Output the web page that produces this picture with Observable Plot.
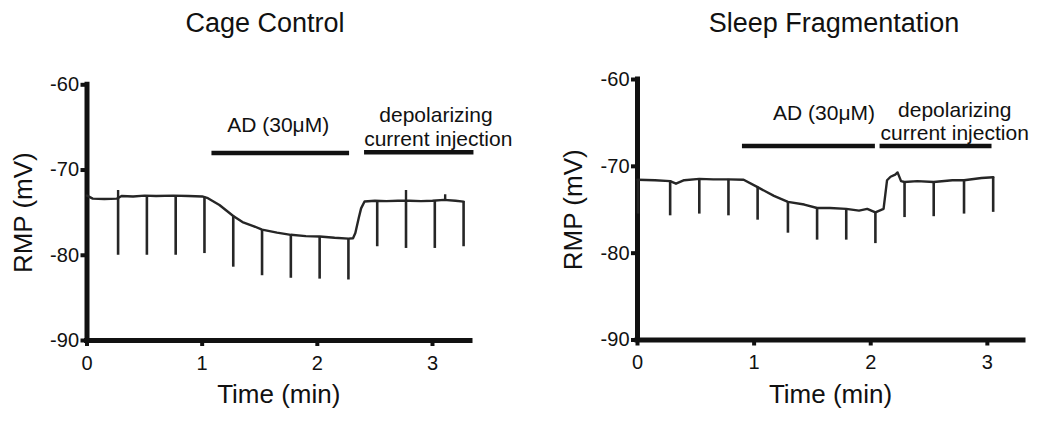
<!DOCTYPE html>
<html>
<head>
<meta charset="utf-8">
<script src="https://cdn.jsdelivr.net/npm/d3@7"></script>
<script src="https://cdn.jsdelivr.net/npm/@observablehq/plot@0.6"></script>
<style>
  html, body { margin: 0; padding: 0; background: #fff; }
  #root { position: relative; width: 1050px; height: 423px; overflow: hidden; font-family: "Liberation Sans", Arial, sans-serif; color: #111; }
  .panel { position: absolute; top: 0; width: 525px; height: 423px; }
  .title { position: absolute; top: 0; height: 50px; line-height: 46px; font-size: 27px; text-align: center; white-space: nowrap; color: #111; }
  .panel svg { position: absolute; top: 50px; left: 0; overflow: visible; }
</style>
</head>
<body>
<div id="root"></div>
<script>
// ---------- data ----------
const xTicks = [0, 1, 2, 3];
const yTicks = [-60, -70, -80, -90];
const titles = ["Cage Control", "Sleep Fragmentation"];
const xLabel = "Time (min)";
const yLabel = "RMP (mV)";
const adLabel = "AD (30\u03BCM)";
const depolLabel1 = "depolarizing";
const depolLabel2 = "current injection";

// Cage Control: resting membrane potential trace (baseline)
const ccTime = [0, 0.05, 0.15, 0.26, 0.3, 0.4, 0.5, 0.6, 0.75, 0.88, 1.0, 1.05, 1.15, 1.27, 1.35, 1.45, 1.52, 1.65, 1.77, 1.9, 2.02, 2.15, 2.27, 2.31, 2.33, 2.36, 2.38, 2.41, 2.5, 2.6, 2.7, 2.8, 2.9, 3.0, 3.1, 3.2, 3.27];
const ccRmp  = [-73.0, -73.35, -73.4, -73.35, -73.05, -73.1, -73.0, -73.05, -73.0, -73.05, -73.1, -73.3, -74.1, -75.4, -76.1, -76.6, -77.0, -77.35, -77.6, -77.75, -77.8, -77.95, -78.05, -78.0, -77.4, -75.6, -74.5, -73.7, -73.6, -73.65, -73.6, -73.6, -73.65, -73.6, -73.5, -73.6, -73.7];
// Cage Control: hyperpolarizing test pulses (time, minimum)
const ccSpikeTime = [0.27, 0.52, 0.77, 1.02, 1.27, 1.52, 1.77, 2.02, 2.27, 2.52, 2.77, 3.02, 3.27];
const ccSpikeMin  = [-80.0, -80.0, -80.0, -79.8, -81.4, -82.4, -82.7, -82.8, -82.9, -79.0, -79.2, -79.2, -79.0];
// Cage Control: small upward transients
const ccBumpTime = [0.27, 2.77, 3.11];
const ccBumpMax  = [-72.4, -72.4, -72.9];
// Cage Control: treatment periods (min)
const ccAD = [1.085, 2.28];
const ccDepol = [2.41, 3.36];

// Sleep Fragmentation: trace (baseline)
const sfTime = [0, 0.15, 0.28, 0.33, 0.4, 0.53, 0.65, 0.78, 0.91, 1.03, 1.17, 1.29, 1.43, 1.54, 1.65, 1.79, 1.9, 1.97, 2.04, 2.11, 2.14, 2.17, 2.21, 2.23, 2.26, 2.29, 2.4, 2.54, 2.7, 2.8, 2.95, 3.05];
const sfRmp  = [-71.55, -71.6, -71.7, -72.0, -71.6, -71.45, -71.5, -71.5, -71.55, -72.4, -73.4, -74.1, -74.4, -74.8, -74.8, -74.9, -75.1, -74.9, -75.3, -74.9, -71.6, -71.2, -70.95, -70.7, -71.7, -71.8, -71.7, -71.8, -71.6, -71.6, -71.35, -71.25];
const sfSpikeTime = [0.005, 0.28, 0.53, 0.78, 1.03, 1.29, 1.54, 1.79, 2.04, 2.29, 2.54, 2.80, 3.05];
const sfSpikeMin  = [-75.5, -75.7, -75.5, -75.7, -76.2, -77.7, -78.5, -78.5, -78.9, -75.9, -75.8, -75.5, -75.3];
const sfBumpTime = [];
const sfBumpMax  = [];
const sfAD = [0.90, 2.04];
const sfDepol = [2.08, 3.04];

// ---------- drawing ----------
const FONT = "'Liberation Sans', Arial, Helvetica, sans-serif";
const INK = "#111";
const TRACE = "#262626";

function interp(times, vals, t) {
  const i = d3.bisectLeft(times, t);
  if (i <= 0) return vals[0];
  if (i >= times.length) return vals[vals.length - 1];
  const t0 = times[i - 1], t1 = times[i];
  return vals[i - 1] + (vals[i] - vals[i - 1]) * (t - t0) / (t1 - t0);
}

function panel(cfg) {
  const trace = cfg.time.map((t, i) => ({t, v: cfg.rmp[i]}));
  const spikes = cfg.spikeT.map((t, i) => ({t, base: interp(cfg.time, cfg.rmp, t), min: cfg.spikeMin[i]}));
  const bumps = cfg.bumpT.map((t, i) => ({t, base: interp(cfg.time, cfg.rmp, t), max: cfg.bumpMax[i]}));
  const bars = [
    {x1: cfg.ad[0], x2: cfg.ad[1], y: cfg.barY[0]},
    {x1: cfg.depol[0], x2: cfg.depol[1], y: cfg.barY[1]}
  ];
  return Plot.plot({
    width: 525,
    height: 373,
    marginLeft: cfg.m.left,
    marginRight: cfg.m.right,
    marginTop: cfg.m.top,
    marginBottom: cfg.m.bottom,
    style: {fontFamily: FONT, fontSize: "20px", color: INK, background: "transparent", overflow: "visible"},
    x: {domain: [0, cfg.xMax]},
    y: {domain: [-90, -60]},
    marks: [
      Plot.axisX({ticks: xTicks, tickSize: 6, tickPadding: 9, strokeWidth: 4, fontSize: 20, tickFormat: d => String(d), label: null, fill: INK, stroke: INK}),
      Plot.axisY({ticks: yTicks, tickSize: 6, tickPadding: 2, strokeWidth: 4, fontSize: 20, tickFormat: d => String(d), label: null, fill: INK, stroke: INK}),
      Plot.ruleY([-90], {x1: 0, x2: cfg.xMax, stroke: INK, strokeWidth: 5, strokeLinecap: "square"}),
      Plot.ruleX([0], {y1: -90, y2: -60, stroke: INK, strokeWidth: 5, strokeLinecap: "square"}),
      Plot.line(trace, {x: "t", y: "v", stroke: TRACE, strokeWidth: 2.4, curve: "linear"}),
      Plot.ruleX(spikes, {x: "t", y1: "base", y2: "min", stroke: TRACE, strokeWidth: 2.6}),
      Plot.ruleX(bumps, {x: "t", y1: "base", y2: "max", stroke: TRACE, strokeWidth: 2.4}),
      Plot.ruleY(bars, {x1: "x1", x2: "x2", y: "y", stroke: INK, strokeWidth: 4.5}),
      Plot.text([adLabel], {x: cfg.adText[0], y: cfg.adText[1], text: d => d, fontSize: 21, lineAnchor: "middle", fill: INK}),
      Plot.text([depolLabel1], {x: cfg.dep1[0], y: cfg.dep1[1], text: d => d, fontSize: 21, lineAnchor: "middle", fill: INK}),
      Plot.text([depolLabel2], {x: cfg.dep2[0], y: cfg.dep2[1], text: d => d, fontSize: 21, lineAnchor: "middle", fill: INK}),
      Plot.text([xLabel], {frameAnchor: "bottom", dy: 54.5, text: d => d, fontSize: 26, lineAnchor: "middle", textAnchor: "middle", fill: INK}),
      Plot.text([yLabel], {frameAnchor: "left", dx: cfg.yLabelDx, rotate: -90, text: d => d, fontSize: 26, lineAnchor: "middle", textAnchor: "middle", fill: INK})
    ]
  });
}

const root = document.getElementById("root");
function addPanel(left, title, titleCenter, svg) {
  const div = document.createElement("div");
  div.className = "panel";
  div.style.left = left + "px";
  const t = document.createElement("div");
  t.className = "title";
  t.textContent = title;
  t.style.left = (titleCenter - 150) + "px";
  t.style.width = "300px";
  div.appendChild(t);
  div.appendChild(svg);
  root.appendChild(div);
}

addPanel(0, titles[0], 265, panel({
  time: ccTime, rmp: ccRmp, spikeT: ccSpikeTime, spikeMin: ccSpikeMin,
  bumpT: ccBumpTime, bumpMax: ccBumpMax, ad: ccAD, depol: ccDepol,
  xMax: 3.33, m: {left: 86.5, right: 55, top: 34.3, bottom: 83},
  barY: [-68.0, -67.9],
  adText: [1.66, -64.8], dep1: [3.03, -63.6], dep2: [3.05, -66.35],
  yLabelDx: -63
}));

addPanel(525, titles[1], 309, panel({
  time: sfTime, rmp: sfRmp, spikeT: sfSpikeTime, spikeMin: sfSpikeMin,
  bumpT: sfBumpTime, bumpMax: sfBumpMax, ad: sfAD, depol: sfDepol,
  xMax: 3.31, m: {left: 112, right: 27, top: 29, bottom: 83.5},
  barY: [-67.66, -67.66],
  adText: [1.60, -63.87], dep1: [2.72, -63.6], dep2: [2.72, -66.17],
  yLabelDx: -64
}));
</script>
</body>
</html>
